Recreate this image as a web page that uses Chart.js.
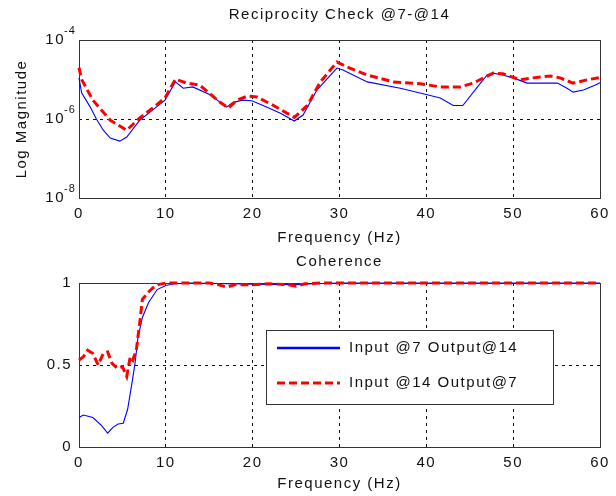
<!DOCTYPE html>
<html>
<head>
<meta charset="utf-8">
<script src="https://cdn.jsdelivr.net/npm/chart.js@4.4.1/dist/chart.umd.min.js"></script>
<style>
    html, body { margin: 0; padding: 0; background: #fff; }
    #marco { position: relative; width: 616px; height: 496px; }
    canvas { position: absolute; left: 0; }
</style>
</head>
<body>
<div id="marco">
    <canvas id="magChart" width="616" height="250" style="top:0px"></canvas>
    <canvas id="cohChart" width="616" height="246" style="top:250px"></canvas>
</div>
<script>
'use strict';

// 1. DATOS
const etiquetas = ['Input @7 Output@14', 'Input @14 Output@7'];
const ticksFrecuencia = [0, 10, 20, 30, 40, 50, 60];
const ticksMagnitud = [1e-8, 1e-6, 1e-4];
const ticksCoherencia = [0, 0.5, 1];

// Magnitud, Input @7 Output@14 (azul)
const frecMag7 = [0, 0.3, 1.3, 2.0, 2.8, 3.6, 4.7, 5.5, 7.0, 8.5, 9.9, 11.1, 12.0, 13.1, 15.1, 17.0, 17.7, 18.8, 19.9, 21.2, 23.2, 24.8, 25.8, 27.4, 29.7, 30.4, 33.2, 37.0, 40.1, 41.6, 43.1, 44.2, 45.9, 47.0, 47.7, 48.8, 50.0, 51.6, 53.1, 55.1, 56.2, 56.9, 58.1, 59.4, 60];
const mag7 = [1.1e-5, 4.6e-6, 2.0e-6, 1.0e-6, 5.2e-7, 3.3e-7, 2.75e-7, 3.5e-7, 9.3e-7, 1.7e-6, 3.0e-6, 8.7e-6, 6.0e-6, 6.5e-6, 4.1e-6, 2.0e-6, 2.6e-6, 3.0e-6, 2.9e-6, 2.2e-6, 1.4e-6, 8.9e-7, 1.26e-6, 5.4e-6, 1.95e-5, 1.74e-5, 8.7e-6, 6.0e-6, 4.1e-6, 3.4e-6, 2.2e-6, 2.2e-6, 6.5e-6, 1.3e-5, 1.45e-5, 1.3e-5, 1.1e-5, 8.1e-6, 8.1e-6, 8.1e-6, 6.0e-6, 4.8e-6, 5.4e-6, 7.2e-6, 8.3e-6];

// Magnitud, Input @14 Output@7 (rojo)
const frecMag14 = [0, 0.3, 1.6, 3.6, 5.5, 7.0, 8.5, 9.9, 11.1, 12.4, 13.9, 16.2, 17.2, 18.2, 19.4, 20.5, 22.4, 24.8, 26.3, 27.8, 29.7, 31.2, 33.2, 36.2, 39.3, 41.6, 43.9, 45.4, 47.7, 48.8, 50.8, 52.3, 54.3, 55.4, 56.9, 58.5, 60];
const mag14 = [2.0e-5, 1.0e-5, 3.0e-6, 9.3e-7, 5.2e-7, 1.07e-6, 1.9e-6, 3.4e-6, 1.02e-5, 8.1e-6, 7.2e-6, 2.7e-6, 1.9e-6, 3.0e-6, 3.8e-6, 3.6e-6, 2.2e-6, 1.1e-6, 2.2e-6, 8.7e-6, 2.75e-5, 1.95e-5, 1.3e-5, 8.7e-6, 7.8e-6, 6.5e-6, 6.5e-6, 8.1e-6, 1.45e-5, 1.4e-5, 9.8e-6, 1.1e-5, 1.23e-5, 1.1e-5, 8.1e-6, 9.8e-6, 1.12e-5];

// Coherencia
const frecCoh7 = [0, 0.5, 1.6, 2.6, 3.3, 3.9, 4.5, 5.1, 5.6, 6.1, 6.45, 6.8, 7.3, 8.0, 9.0, 10.0, 11.0, 13.0, 17.0, 20.0, 25.0, 27.0, 30.0, 40.0, 50.0, 60.0];
const coh7 = [0.18, 0.195, 0.18, 0.13, 0.085, 0.12, 0.14, 0.145, 0.23, 0.39, 0.51, 0.67, 0.79, 0.88, 0.96, 0.985, 0.995, 1.0, 0.995, 0.993, 0.99, 0.995, 1.0, 1.0, 1.0, 1.0];
const frecCoh14 = [0, 0.5, 1.0, 1.6, 2.2, 2.8, 3.3, 3.8, 4.4, 5.0, 5.5, 5.9, 6.2, 6.6, 7.0, 7.3, 7.9, 8.5, 9.1, 10.0, 15.0, 16.0, 17.0, 18.0, 20.0, 22.0, 24.0, 25.0, 26.0, 28.0, 60.0];
const coh14 = [0.53, 0.55, 0.59, 0.57, 0.50, 0.57, 0.58, 0.51, 0.48, 0.49, 0.43, 0.55, 0.53, 0.59, 0.76, 0.90, 0.94, 0.97, 0.99, 1.0, 1.0, 0.99, 0.975, 0.99, 0.99, 0.995, 0.99, 0.98, 0.995, 1.0, 1.0];

// 2. ESTILO
const COLOR_TEXTO = '#111';
const FAMILIA = 'Arial, "Liberation Sans", sans-serif';
const FUENTE = { family: FAMILIA, size: 15 };

function puntos(xs, ys) {
    return xs.map((x, i) => ({ x: x, y: ys[i] }));
}

// Marco, espaciado de letras, superindices y leyenda
const pluginMarco = {
    id: 'marco',
    beforeDraw(chart) {
        chart.ctx.letterSpacing = '1.5px';
    },
    beforeDatasetsDraw(chart) {
        const { ctx, chartArea: a } = chart;
        ctx.save();
        ctx.setLineDash([]);
        ctx.strokeStyle = '#333';
        ctx.lineWidth = 1;
        ctx.strokeRect(a.left + 0.5, a.top + 0.5, a.right - a.left, a.bottom - a.top);
        ctx.restore();
    },
    afterDraw(chart, args, opts) {
        const ctx = chart.ctx;
        if (opts.superindices) {
            const esc = chart.scales.y;
            ctx.save();
            ctx.font = '11px ' + FAMILIA;
            ctx.letterSpacing = '1px';
            ctx.fillStyle = COLOR_TEXTO;
            ctx.textAlign = 'left';
            ctx.textBaseline = 'middle';
            esc.ticks.forEach(t => {
                const py = esc.getPixelForValue(t.value);
                ctx.fillText(String(Math.round(Math.log10(t.value))), esc.right - 15, py - 9);
            });
            ctx.restore();
        }
        if (opts.leyenda) {
            const l = opts.leyenda;
            ctx.save();
            ctx.setLineDash([]);
            ctx.fillStyle = '#fff';
            ctx.fillRect(l.x, l.y, l.w, l.h);
            ctx.strokeStyle = '#333';
            ctx.lineWidth = 1;
            ctx.strokeRect(l.x + 0.5, l.y + 0.5, l.w, l.h);
            ctx.font = '15px ' + FAMILIA;
            ctx.letterSpacing = '1.5px';
            ctx.textBaseline = 'middle';
            ctx.textAlign = 'left';
            chart.data.datasets.forEach((ds, i) => {
                const yy = l.y + 18 + i * 35;
                ctx.strokeStyle = ds.borderColor;
                ctx.lineWidth = i === 0 ? 2.5 : 3;
                ctx.setLineDash(ds.borderDash || []);
                ctx.beginPath();
                ctx.moveTo(l.x + 11, yy);
                ctx.lineTo(l.x + 74, yy);
                ctx.stroke();
                ctx.fillStyle = COLOR_TEXTO;
                ctx.fillText(ds.label, l.x + 83, yy);
            });
            ctx.restore();
        }
    }
};

function ejeX(alto) {
    return {
        type: 'linear', min: 0, max: 60,
        afterBuildTicks: (esc) => { esc.ticks = ticksFrecuencia.map(v => ({ value: v })); },
        afterFit: (esc) => { esc.height = alto; },
        ticks: { color: COLOR_TEXTO, font: FUENTE, padding: 7, maxRotation: 0, autoSkip: false },
        grid: { color: '#111', lineWidth: 1, drawTicks: false },
        border: { display: false, dash: [3, 4] },
        title: { display: true, text: 'Frequency (Hz)', color: COLOR_TEXTO, font: FUENTE, padding: { top: 0, bottom: 3 } }
    };
}

function series(d7, d14) {
    return [{
        label: etiquetas[0], data: d7, borderColor: '#0000ff', borderWidth: 1.1,
        pointRadius: 0, tension: 0, fill: false, order: 1, clip: false
    }, {
        label: etiquetas[1], data: d14, borderColor: '#ff0000', borderWidth: 3,
        borderDash: [8, 4], pointRadius: 0, tension: 0, fill: false, order: 0, clip: false
    }];
}

// 3. GRAFICAS
new Chart(document.getElementById('magChart'), {
    type: 'line',
    data: { datasets: series(puntos(frecMag7, mag7), puntos(frecMag14, mag14)) },
    options: {
        responsive: false, animation: false, devicePixelRatio: 1,
        layout: { padding: { left: 0, right: 16, top: 0, bottom: 0 } },
        scales: {
            x: ejeX(52),
            y: {
                type: 'logarithmic', min: 1e-8, max: 1e-4,
                afterBuildTicks: (esc) => { esc.ticks = ticksMagnitud.map(v => ({ value: v })); },
                afterFit: (esc) => { esc.width = 79; },
                ticks: { color: COLOR_TEXTO, font: FUENTE, padding: 14, autoSkip: false, callback: () => '10' },
                grid: { color: '#111', lineWidth: 1, drawTicks: false },
                border: { display: false, dash: [3, 4] },
                title: { display: true, text: 'Log Magnitude', color: COLOR_TEXTO, font: FUENTE, padding: { top: 13, bottom: 0 } }
            }
        },
        plugins: {
            legend: { display: false },
            tooltip: { enabled: false },
            title: {
                display: true, text: 'Reciprocity Check @7-@14', fullSize: false,
                color: COLOR_TEXTO, font: { family: FAMILIA, size: 15, weight: 'normal' },
                padding: { top: 6, bottom: 16 }
            },
            marco: { superindices: true }
        }
    },
    plugins: [pluginMarco]
});

new Chart(document.getElementById('cohChart'), {
    type: 'line',
    data: { datasets: series(puntos(frecCoh7, coh7), puntos(frecCoh14, coh14)) },
    options: {
        responsive: false, animation: false, devicePixelRatio: 1,
        layout: { padding: { left: 0, right: 16, top: 0, bottom: 0 } },
        scales: {
            x: ejeX(49),
            y: {
                type: 'linear', min: 0, max: 1,
                afterBuildTicks: (esc) => { esc.ticks = ticksCoherencia.map(v => ({ value: v })); },
                afterFit: (esc) => { esc.width = 79; },
                ticks: { color: COLOR_TEXTO, font: FUENTE, padding: 7, autoSkip: false, callback: (v) => String(v) },
                grid: { color: '#111', lineWidth: 1, drawTicks: false },
                border: { display: false, dash: [3, 4] }
            }
        },
        plugins: {
            legend: { display: false },
            tooltip: { enabled: false },
            title: {
                display: true, text: 'Coherence', fullSize: false,
                color: COLOR_TEXTO, font: { family: FAMILIA, size: 15, weight: 'normal' },
                padding: { top: 3, bottom: 12 }
            },
            marco: { leyenda: { x: 266, y: 80, w: 287, h: 74 } }
        }
    },
    plugins: [pluginMarco]
});
</script>
</body>
</html>
